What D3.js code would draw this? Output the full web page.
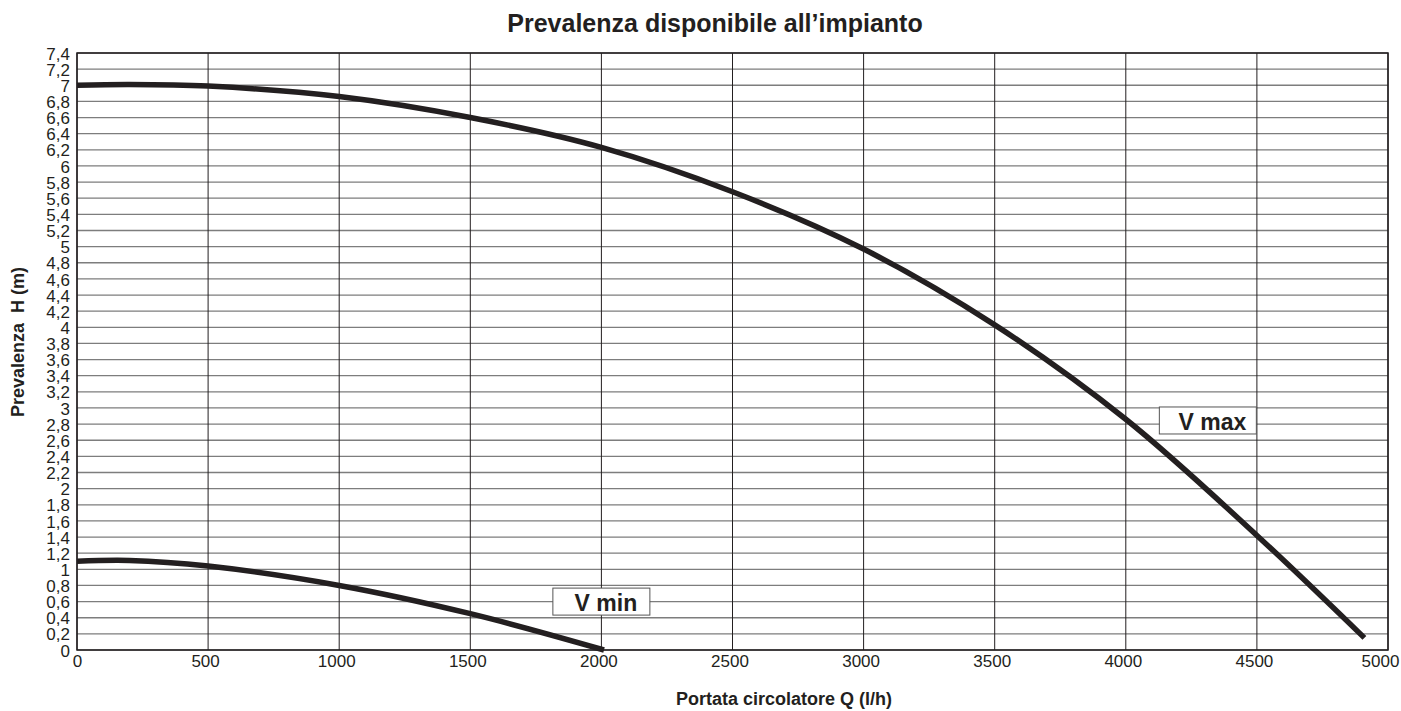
<!DOCTYPE html>
<html>
<head>
<meta charset="utf-8">
<script src="https://cdn.jsdelivr.net/npm/d3@7"></script>
<style>
  body { margin: 0; background: #fff; }
  text { font-family: "Liberation Sans", Arial, sans-serif; fill: #231f20; }
</style>
</head>
<body>
<div id="chart"></div>
<script>
// portata (l/h) e prevalenza (m)
var qMax = [0, 200, 500, 1000, 1500, 2000, 2500, 3000, 3500, 4000, 4500, 4910];
var hMax = [7.0, 7.01, 6.99, 6.86, 6.60, 6.23, 5.68, 4.97, 4.03, 2.86, 1.42, 0.15];
var qMin = [0, 200, 500, 1000, 1500, 2010];
var hMin = [1.10, 1.11, 1.04, 0.80, 0.45, 0.0];

var xTicks = [0, 500, 1000, 1500, 2000, 2500, 3000, 3500, 4000, 4500, 5000];
var yTicks = d3.range(0, 38).map(function(i){ return Math.round(i * 2) / 10; });

var labels = [
  {name: "V max", q: 4311, h: 2.845},
  {name: "V min", q: 1998, h: 0.60}
];

var W = 1401, H = 711;
var margin = {top: 53, right: 13, bottom: 61, left: 77};
var width = W - margin.left - margin.right;
var height = H - margin.top - margin.bottom;

var svg = d3.select("#chart").append("svg")
  .attr("width", W).attr("height", H);

var g = svg.append("g")
  .attr("transform", "translate(" + margin.left + "," + margin.top + ")");

var x = d3.scaleLinear().domain([0, 5000]).range([0, width]);
var y = d3.scaleLinear().domain([0, 7.4]).range([height, 0]);

// griglia orizzontale (grigia)
g.selectAll(".hgrid").data(yTicks).enter().append("line")
  .attr("x1", 0).attr("x2", width)
  .attr("y1", function(d){ return y(d); }).attr("y2", function(d){ return y(d); })
  .attr("stroke", "#7d7d7d").attr("stroke-width", 1.3);

// griglia verticale (nera)
g.selectAll(".vgrid").data(xTicks).enter().append("line")
  .attr("x1", function(d){ return x(d); }).attr("x2", function(d){ return x(d); })
  .attr("y1", 0).attr("y2", height)
  .attr("stroke", "#231f20").attr("stroke-width", 1);

g.append("rect")
  .attr("width", width).attr("height", height)
  .attr("fill", "none").attr("stroke", "#231f20").attr("stroke-width", 1.5);

var fmt = function(d){ return String(d).replace(".", ","); };

var yAxis = d3.axisLeft(y).tickValues(yTicks).tickFormat(fmt).tickSize(0).tickPadding(7);
var gy = g.append("g").call(yAxis);
gy.select(".domain").remove();
gy.selectAll("text").style("font-size", "17px").attr("dy", "0.36em");

var xAxis = d3.axisBottom(x).tickValues(xTicks).tickFormat(d3.format("d")).tickSize(0).tickPadding(5);
var gx = g.append("g").attr("transform", "translate(0," + height + ")").call(xAxis);
gx.select(".domain").remove();
gx.selectAll("text")
  .style("font-size", "17px")
  .attr("dx", function(d){ return d === 5000 ? -8 : (d === 0 ? 0 : -3); });

var line = d3.line()
  .x(function(d){ return x(d[0]); })
  .y(function(d){ return y(d[1]); })
  .curve(d3.curveCatmullRom);

[[qMax, hMax], [qMin, hMin]].forEach(function(s){
  g.append("path")
    .datum(d3.zip(s[0], s[1]))
    .attr("d", line)
    .attr("fill", "none")
    .attr("stroke", "#231f20")
    .attr("stroke-width", 5.5);
});

labels.forEach(function(l){
  var cx = x(l.q), cy = y(l.h);
  g.append("rect")
    .attr("x", cx - 48).attr("y", cy - 13.5)
    .attr("width", 97).attr("height", 27)
    .attr("fill", "#fff").attr("stroke", "#555").attr("stroke-width", 1);
  g.append("text")
    .attr("x", cx + 5).attr("y", cy + 1)
    .attr("dy", "0.35em")
    .attr("text-anchor", "middle")
    .style("font-size", "23px").style("font-weight", "bold")
    .text(l.name);
});

svg.append("text")
  .attr("x", 715).attr("y", 32)
  .attr("text-anchor", "middle")
  .style("font-size", "25px").style("font-weight", "bold")
  .text("Prevalenza disponibile all\u2019impianto");

svg.append("text")
  .attr("x", 784).attr("y", 705)
  .attr("text-anchor", "middle")
  .style("font-size", "18px").style("font-weight", "bold")
  .text("Portata circolatore Q (l/h)");

svg.append("text")
  .attr("transform", "translate(24,342) rotate(-90)")
  .attr("text-anchor", "middle")
  .style("font-size", "18px").style("font-weight", "bold")
  .style("white-space", "pre")
  .text("Prevalenza  H (m)");
</script>
</body>
</html>
